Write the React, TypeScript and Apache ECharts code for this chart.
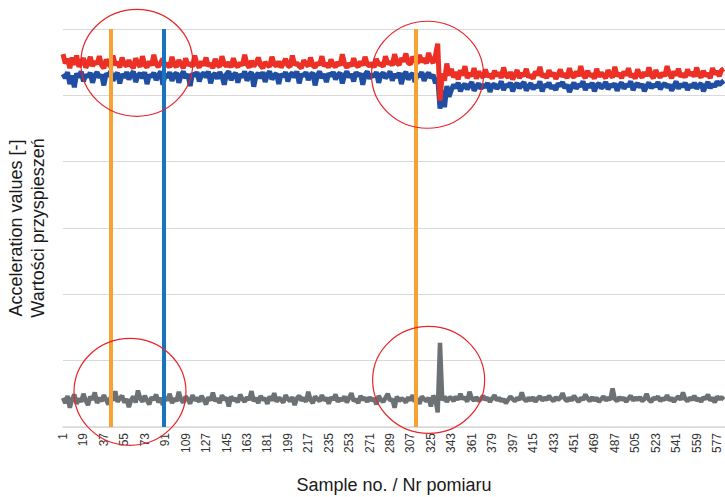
import React, { useEffect, useRef } from "react";
import * as echarts from "echarts";

// Sample indices are 0-based; tick labels show index + 1 (1, 19, 37, ...)
const X_MAX = 583;
const STEP = 2;
const EVENT_START = 330;
const POST_START = 342;

const markerOrange1 = 42;
const markerBlue = 89;
const markerOrange2 = 311;

// Red series (upper)
const redPre = [
  562, 548, 555, 541, 557, 546, 560, 543, 549, 556, 542, 547, 558, 544, 551,
  547, 559, 545, 541, 554, 548, 543, 560, 546, 550, 542, 557, 547, 544, 553,
  545, 541, 556, 548, 543, 559, 546, 542, 551, 545, 561, 547, 543, 549, 555,
  544, 548, 542, 558, 546, 543, 553, 547, 541, 556, 545, 549, 543, 560, 547,
  542, 551, 545, 557, 544, 548, 541, 555, 546, 543, 559, 547, 544, 550, 542,
  556, 546, 543, 549, 545, 561, 547, 542, 552, 544, 548, 557, 545, 541, 550,
  546, 543, 558, 547, 544, 551, 542, 548, 555, 545, 543, 560, 546, 549, 544,
  541, 553, 547, 544, 557, 545, 542, 549, 546, 559, 544, 548, 542, 554, 546,
  543, 550, 545, 562, 547, 542, 548, 544, 556, 546, 543, 551, 545, 558, 547,
  544, 549, 542, 555, 546, 548, 543, 559, 547, 551, 545, 562, 549, 546, 556,
  551, 563, 549, 547, 558, 552, 548, 561, 550, 556, 548, 564, 553, 549, 560,
];
const redEvent = [578, 492, 533, 522, 548, 530];
const redPost = [
  540, 527, 535, 524, 538, 530, 544, 526, 533, 529, 541, 525, 536, 530, 527,
  539, 528, 532, 525, 537, 529, 534, 526, 542, 530, 527, 535, 524, 531, 538,
  526, 533, 529, 540, 527, 531, 525, 536, 530, 543, 528, 532, 526, 538, 529,
  534, 525, 531, 539, 528, 533, 526, 541, 530, 527, 536, 529, 544, 531, 526,
  537, 529, 532, 525, 540, 528, 534, 530, 526, 538, 531, 527, 543, 529, 533,
  526, 536, 530, 541, 528, 532, 525, 539, 531, 527, 535, 529, 542, 530, 526,
  538, 531, 527, 534, 529, 544, 532, 526, 536, 530, 540, 528, 533, 527, 539,
  530, 535, 528, 542, 531, 527, 537, 529, 533, 526, 541, 532, 536, 529, 538,
  540,
];

// Blue series (middle)
const bluePre = [
  532, 526, 535, 517, 530, 512, 533, 527, 536, 521, 531, 528, 534, 519, 530,
  535, 527, 531, 515, 533, 529, 536, 522, 530, 534, 518, 532, 527, 535, 524,
  531, 536, 520, 530, 533, 526, 535, 517, 531, 528, 534, 523, 530, 536, 516,
  532, 527, 535, 522, 531, 534, 519, 530, 536, 526, 532, 514, 533, 529, 535,
  521, 531, 534, 527, 536, 518, 530, 533, 525, 535, 529, 516, 532, 536, 523,
  530, 534, 519, 532, 527, 536, 522, 531, 535, 513, 530, 533, 526, 535, 520,
  531, 536, 524, 530, 533, 517, 532, 528, 535, 521, 531, 534, 527, 536, 518,
  532, 529, 535, 523, 531, 534, 515, 530, 536, 526, 532, 520, 533, 529, 535,
  524, 531, 534, 518, 530, 536, 527, 532, 521, 535, 529, 533, 516, 531, 536,
  525, 532, 528, 535, 519, 531, 534, 526, 530, 536, 522, 532, 527, 534, 517,
  531, 535, 524, 530, 533, 520, 532, 528, 535, 522, 530, 534, 526, 531, 518,
];
const blueEvent = [527, 480, 508, 482, 514, 498];
const bluePost = [
  508, 516, 511, 519, 506, 514, 517, 509, 515, 520, 507, 513, 518, 510, 516,
  512, 519, 505, 515, 517, 510, 514, 521, 508, 516, 513, 519, 506, 515, 518,
  511, 516, 520, 507, 514, 518, 509, 515, 512, 521, 506, 516, 513, 519, 510,
  515, 508, 518, 514, 520, 511, 516, 505, 513, 519, 510, 516, 514, 521, 508,
  517, 512, 519, 506, 515, 518, 511, 514, 520, 509, 516, 513, 518, 507, 515,
  519, 510, 516, 514, 521, 508, 515, 518, 512, 517, 506, 514, 519, 511, 516,
  513, 520, 509, 515, 518, 512, 516, 507, 514, 521, 510, 517, 513, 519, 508,
  516, 512, 519, 510, 515, 518, 506, 514, 520, 511, 517, 513, 521, 516, 519,
  522,
];

// Grey series (lower)
const greyPre = [
  44, 36, 47, 29, 42, 49, 35, 43, 38, 50, 40, 33, 46, 41, 52,
  36, 44, 39, 48, 41, 34, 45, 40, 54, 38, 43, 47, 37, 42, 30,
  41, 46, 37, 55, 43, 38, 47, 40, 34, 45, 41, 49, 37, 44, 33,
  45, 40, 50, 36, 43, 39, 53, 41, 37, 46, 42, 35, 48, 40, 44,
  38, 47, 41, 34, 45, 40, 52, 39, 43, 36, 48, 41, 44, 31, 46,
  40, 43, 37, 49, 42, 38, 45, 41, 54, 39, 44, 36, 47, 41, 43,
  35, 46, 40, 51, 38, 44, 41, 37, 48, 42, 39, 45, 33, 43, 47,
  40, 44, 38, 53, 41, 36, 46, 42, 39, 48, 40, 44, 35, 45, 41,
  49, 38, 43, 40, 46, 37, 44, 51, 39, 42, 36, 47, 41, 44, 38,
  45, 40, 43, 34, 47, 41, 38, 44, 50, 40, 42, 29, 46, 39, 43,
  41, 37, 45, 40, 48, 38, 43, 35, 46, 42, 39, 44, 31, 47, 42,
];
const greyEvent = [22, 127, 40, 46, 38, 44];
const greyPost = [
  44, 39, 46, 41, 50, 42, 45, 38, 53, 43, 40, 45, 39, 42, 47,
  41, 44, 38, 43, 48, 40, 44, 39, 42, 36, 41, 46, 42, 39, 44,
  41, 52, 42, 39, 44, 40, 45, 38, 43, 46, 40, 44, 41, 47, 42,
  39, 45, 41, 44, 51, 42, 39, 44, 40, 47, 42, 38, 44, 41, 49,
  43, 39, 45, 40, 44, 38, 42, 46, 40, 44, 41, 58, 42, 39, 45,
  41, 44, 38, 43, 47, 40, 44, 41, 45, 39, 42, 50, 41, 38, 44,
  42, 46, 39, 43, 41, 48, 40, 44, 38, 43, 46, 41, 52, 42, 39,
  44, 41, 47, 40, 43, 38, 45, 42, 49, 40, 44, 37, 46, 42, 45,
  41,
];

// Highlighted regions (data coordinates of ellipse centres)
const regions = [
  [65, 549],
  [321, 531],
  [59, 53],
  [322, 71],
];

function build(pre: number[], ev: number[], post: number[]) {
  const out: number[][] = [];
  pre.forEach((v, i) => {
    const x = i * STEP;
    if (x < EVENT_START) out.push([x, v]);
  });
  ev.forEach((v, i) => out.push([EVENT_START + i * STEP, v]));
  post.forEach((v, i) => {
    const x = POST_START + i * STEP;
    if (x <= X_MAX) out.push([x, v]);
  });
  return out;
}

const FONT = "Liberation Sans, Arial, sans-serif";

export default function App() {
  const ref = useRef<HTMLDivElement>(null);
  useEffect(() => {
    if (!ref.current) return;
    const chart = echarts.init(ref.current, undefined, { renderer: "svg" });
    const lineBase = {
      type: "line" as const,
      showSymbol: false,
      symbol: "none",
      silent: true,
    };
    chart.setOption({
      animation: false,
      backgroundColor: "#ffffff",
      grid: { left: 63, right: 0, top: 29, bottom: 70, outerBoundsMode: "none", containLabel: false },
      xAxis: {
        type: "value",
        min: 0,
        max: X_MAX,
        interval: 18,
        name: "Sample no. / Nr pomiaru",
        nameLocation: "middle",
        nameGap: 49,
        nameTextStyle: { fontFamily: FONT, fontSize: 18, color: "#1a1a1a" },
        axisLine: { show: true, lineStyle: { color: "#d9d9d9", width: 1.5 } },
        axisTick: { show: false },
        splitLine: { show: false },
        axisLabel: {
          rotate: 90,
          margin: 6,
          showMaxLabel: false,
          fontFamily: FONT,
          fontSize: 12,
          color: "#333333",
          formatter: (v: number) => String(v + 1),
        },
      },
      yAxis: {
        type: "value",
        min: 0,
        max: 600,
        interval: 100,
        name: "Acceleration values [-]\nWartości przyspieszeń",
        nameLocation: "middle",
        nameGap: 14,
        nameRotate: 90,
        nameTextStyle: {
          fontFamily: FONT,
          fontSize: 18,
          lineHeight: 22,
          color: "#1a1a1a",
          verticalAlign: "bottom",
        },
        axisLine: { show: false },
        axisTick: { show: false },
        axisLabel: { show: false },
        splitLine: { show: true, lineStyle: { color: "#d9d9d9", width: 1 } },
      },
      series: [
        { ...lineBase, name: "blue", data: build(bluePre, blueEvent, bluePost), lineStyle: { color: "#1f4ea3", width: 5 }, z: 2 },
        { ...lineBase, name: "red", data: build(redPre, redEvent, redPost), lineStyle: { color: "#ec3025", width: 5 }, z: 3 },
        {
          ...lineBase,
          name: "grey",
          data: build(greyPre, greyEvent, greyPost),
          lineStyle: { color: "#6d7173", width: 4.5 },
          z: 2,
          markLine: {
            silent: true,
            symbol: "none",
            label: { show: false },
            animation: false,
            z: 10,
            data: [
              { xAxis: markerOrange1, lineStyle: { color: "#f7a233", width: 4, type: "solid" } },
              { xAxis: markerBlue, lineStyle: { color: "#1874bd", width: 4, type: "solid" } },
              { xAxis: markerOrange2, lineStyle: { color: "#f7a233", width: 4, type: "solid" } },
            ],
          },
        },
      ],
    });
    const ellipses = regions.map((r) => {
      const p = chart.convertToPixel({ gridIndex: 0 }, r) as number[];
      return {
        type: "ellipse",
        silent: true,
        z: 100,
        shape: { cx: p[0], cy: p[1], rx: 56, ry: 53.5 },
        style: { fill: "none", stroke: "#e8252a", lineWidth: 1.2 },
      };
    });
    chart.setOption({ graphic: ellipses });
    return () => chart.dispose();
  }, []);
  return <div ref={ref} style={{ width: 725, height: 497, position: "absolute", left: 0, top: 0 }} />;
}
